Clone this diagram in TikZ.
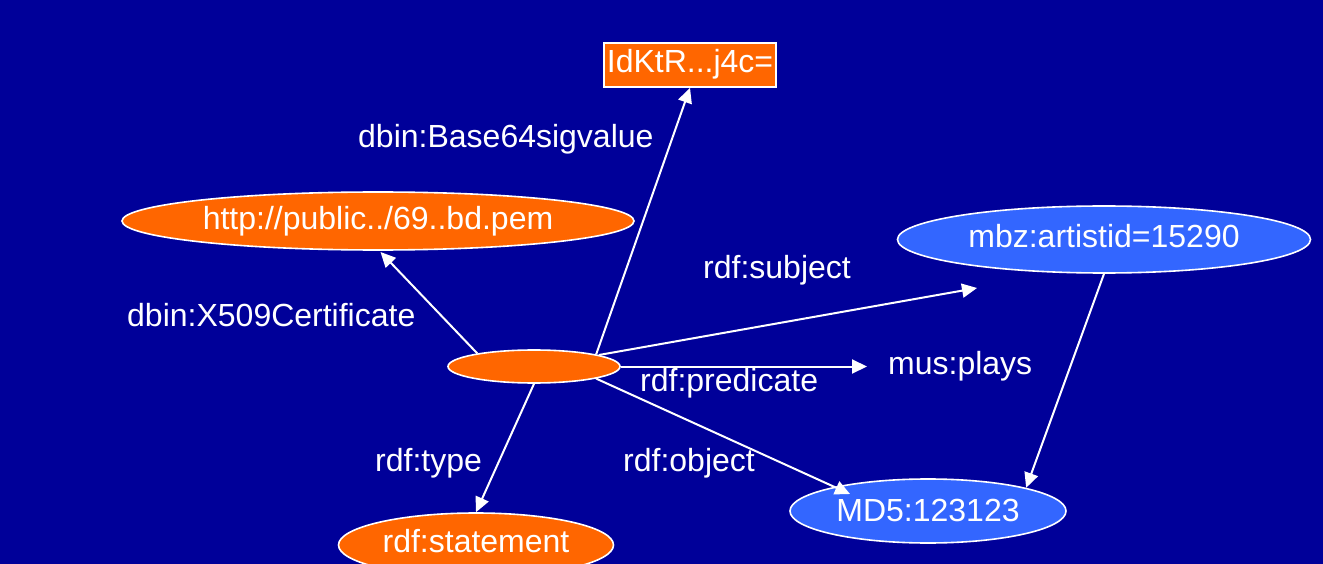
\documentclass[tikz,border=0pt]{standalone}
\usepackage{fontspec}
\setmainfont{Liberation Sans}
\usepackage{xcolor}
\usepackage{tikz}
\usetikzlibrary{shapes.geometric,arrows.meta}
\definecolor{slidebg}{RGB}{0,0,153}
\definecolor{sigorange}{RGB}{255,102,0}
\definecolor{mbzblue}{RGB}{51,102,255}

\begin{document}
\begin{tikzpicture}[x=1pt,y=-1pt,
        every node/.style={text=white,font=\fontsize{32}{38}\selectfont},
        res/.style={ellipse,draw=white,line width=1.6pt,inner sep=0pt,text height=23pt,text depth=7pt},
        lbl/.style={anchor=base west,inner sep=0pt},
        link/.style={draw=white,line width=2pt,-{Triangle[length=15pt,width=14pt]}}]
        \fill[slidebg] (0,0) rectangle (1323,564);
        \useasboundingbox (0,0) rectangle (1323,564);
        \node[draw=white,line width=1.6pt,fill=sigorange,inner sep=0pt,minimum width=172pt,minimum height=44pt,text height=23pt,text depth=7pt] (sig) at (690,65) {IdKtR...j4c=};
        \node[res,fill=sigorange,minimum width=512pt,minimum height=58pt,text depth=5pt] (cert) at (378,221) {http://public../69..bd.pem};
        \node[res,fill=sigorange,minimum width=172pt,minimum height=33pt,text height=0pt,text depth=0pt] (blank) at (534,366.5) {};
        \node[res,fill=mbzblue,minimum width=413pt,minimum height=67pt] (artist) at (1104,239.5) {mbz:artistid=15290};
        \node[anchor=base west,inner ysep=0pt,inner xsep=21pt] (plays) at (867,374) {mus:plays};
        \node[res,fill=mbzblue,minimum width=276pt,minimum height=64pt,text depth=3pt] (md5) at (928,511) {MD5:123123};
        \node[res,fill=sigorange,minimum width=275pt,minimum height=64pt,text depth=9pt] (stmt) at (476,545) {rdf:statement};
        \coordinate (certEnd) at (380.5,252);
        \coordinate (subjEnd) at (977,288);
        \coordinate (objEnd) at (850,494);
        \draw[link] (blank.11) -- (sig.south);
        \draw[link] (blank.167) -- (certEnd);
        \draw[link] (blank) -- (subjEnd);
        \draw[link] (blank.east) -- (blank.east -| plays.west);
        \draw[link] (blank.-11) -- (objEnd);
        \draw[link] (blank.south) -- (stmt.north);
        \draw[link] (artist.south) -- (md5.north east);
        \node[lbl] (sigLbl) at (358,148) {dbin:Base64sigvalue};
        \node[lbl] (certLbl) at (127,326) {dbin:X509Certificate};
        \node[lbl] (subjLbl) at (703,279) {rdf:subject};
        \node[lbl] (predLbl) at (640,391) {rdf:predicate};
        \node[lbl] (typeLbl) at (375,471) {rdf:type};
        \node[lbl] (objLbl) at (623,471) {rdf:object};
    \end{tikzpicture}
\end{document}
